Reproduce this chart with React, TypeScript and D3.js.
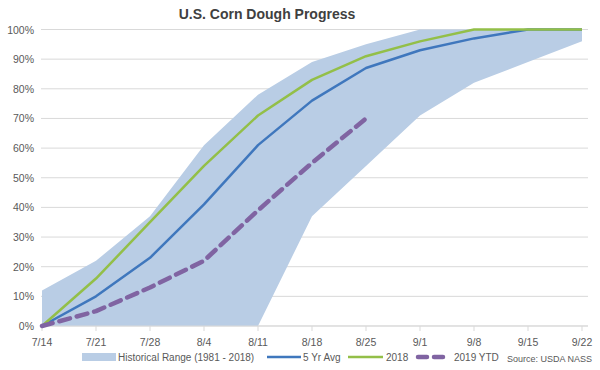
import React from "react";
import * as d3 from "d3";

// Weekly categories (week ending)
const weeks = ["7/14", "7/21", "7/28", "8/4", "8/11", "8/18", "8/25", "9/1", "9/8", "9/15", "9/22"];

// Percent of corn in dough stage
const rangeLow = [0, 0, 0, 0, 0, 37, 54, 71, 82, 89, 96];
const rangeHigh = [12, 22, 37, 61, 78, 89, 95, 100, 100, 100, 100];
const avg5yr = [0, 10, 23, 41, 61, 76, 87, 93, 97, 100, 100];
const y2018 = [0, 16, 35, 54, 71, 83, 91, 96, 100, 100, 100];
const y2019 = [0, 5, 13, 22, 39, 55, 70];

const yTicks = [0, 10, 20, 30, 40, 50, 60, 70, 80, 90, 100];

const FONT = "'Liberation Sans', Arial, sans-serif";

const App: React.FC = () => {
  const width = 600;
  const height = 370;
  const plot = { left: 41, right: 588, top: 29.5, bottom: 326 };

  const x = d3.scalePoint<string>().domain(weeks).range([42, 582]);
  const y = d3.scaleLinear().domain([0, 100]).range([plot.bottom, plot.top]);

  const area = d3
    .area<number>()
    .x((_, i) => x(weeks[i])!)
    .y0((_, i) => y(rangeLow[i]))
    .y1((d) => y(d));

  const line = d3
    .line<number>()
    .x((_, i) => x(weeks[i])!)
    .y((d) => y(d));

  return (
    <svg
      width={width}
      height={height}
      style={{ position: "absolute", left: 0, top: 0, background: "#fff" }}
      fontFamily={FONT}
    >
      <text x={267} y={19} textAnchor="middle" fontSize={14} fontWeight="bold" fill="#404040">
        U.S. Corn Dough Progress
      </text>

      {/* gridlines */}
      {yTicks.map((t) => (
        <g key={t}>
          <line x1={plot.left} x2={plot.right} y1={y(t)} y2={y(t)} stroke="#d9d9d9" strokeWidth={1} />
          <text x={34} y={y(t) + 4} textAnchor="end" fontSize={10.5} fill="#595959">
            {t}%
          </text>
        </g>
      ))}

      {/* historical range */}
      <path d={area(rangeHigh) || ""} fill="#b9cde5" />

      {/* x axis */}
      <line x1={plot.left} x2={plot.right} y1={plot.bottom} y2={plot.bottom} stroke="#d9d9d9" />
      {weeks.map((w) => (
        <g key={w}>
          <line x1={x(w)} x2={x(w)} y1={plot.bottom} y2={plot.bottom + 5} stroke="#d9d9d9" />
          <text x={x(w)} y={346} textAnchor="middle" fontSize={10.5} fill="#595959">
            {w}
          </text>
        </g>
      ))}

      <path d={line(avg5yr) || ""} fill="none" stroke="#3f77bd" strokeWidth={2.5} strokeLinejoin="round" />
      <path d={line(y2018) || ""} fill="none" stroke="#93bf48" strokeWidth={2.5} strokeLinejoin="round" />
      <path
        d={line(y2019) || ""}
        fill="none"
        stroke="#8064a2"
        strokeWidth={4.5}
        strokeDasharray="11 7"
        strokeLinecap="round"
        strokeLinejoin="round"
      />

      {/* legend */}
      <g fontSize={10} fill="#595959">
        <rect x={82} y={353} width={34} height={8} fill="#b9cde5" />
        <text x={118} y={361}>Historical Range (1981 - 2018)</text>
        <line x1={267} x2={301} y1={357} y2={357} stroke="#3f77bd" strokeWidth={2.5} />
        <text x={303} y={361}>5 Yr Avg</text>
        <line x1={348} x2={383} y1={357} y2={357} stroke="#93bf48" strokeWidth={2.5} />
        <text x={386} y={361}>2018</text>
        <line x1={418} x2={444} y1={357} y2={357} stroke="#8064a2" strokeWidth={4.5} strokeDasharray="9 7" strokeLinecap="round" />
        <text x={454} y={361}>2019 YTD</text>
        <text x={507} y={362} fontSize={9}>Source: USDA NASS</text>
      </g>
    </svg>
  );
};

export default App;
